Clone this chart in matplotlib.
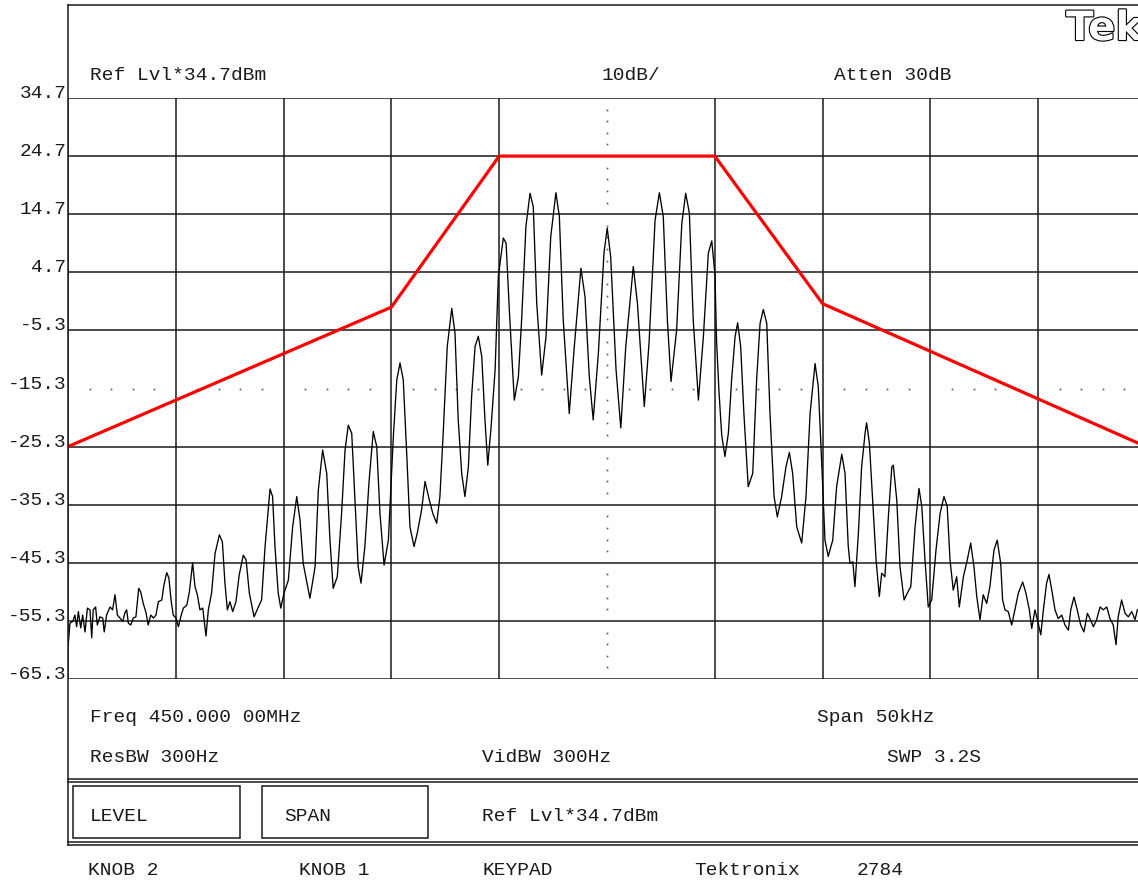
import matplotlib
matplotlib.use('Agg')
import matplotlib.pyplot as plt
from matplotlib.lines import Line2D
from matplotlib.patches import Rectangle
import matplotlib.patheffects as pe

# ---------------- data ----------------
freq_khz = [
    -24.99, -24.91, -24.78, -24.68, -24.60, -24.52, -24.41, -24.32, -24.21, -24.10,
    -23.98, -23.90, -23.83, -23.72, -23.64, -23.52, -23.39, -23.32, -23.21, -23.05,
    -22.93, -22.82, -22.71, -22.59, -22.46, -22.36, -22.28, -22.20, -22.09, -21.97,
    -21.85, -21.72, -21.63, -21.51, -21.38, -21.28, -21.16, -21.04, -20.92, -20.81,
    -20.65, -20.55, -20.42, -20.32, -20.22, -20.12, -19.99, -19.88, -19.77, -19.65,
    -19.49, -19.37, -19.22, -19.11, -19.00, -18.88, -18.75, -18.60, -18.49, -18.34,
    -18.18, -17.98, -17.84, -17.72, -17.61, -17.49, -17.36, -17.21, -17.06, -16.87,
    -16.74, -16.59, -16.37, -16.17, -16.02, -15.86, -15.63, -15.51, -15.40, -15.25,
    -15.13, -14.98, -14.78, -14.58, -14.39, -14.24, -14.09, -13.78, -13.54, -13.39,
    -13.19, -13.00, -12.85, -12.70, -12.51, -12.31, -12.15, -12.00, -11.84, -11.69,
    -11.54, -11.41, -11.23, -11.03, -10.84, -10.68, -10.53, -10.34, -10.14, -9.91,
    -9.75, -9.60, -9.45, -9.29, -9.14, -8.95, -8.80, -8.60, -8.44, -8.24,
    -8.08, -7.90, -7.75, -7.59, -7.41, -7.20, -7.05, -6.90, -6.74, -6.59,
    -6.43, -6.28, -6.12, -5.97, -5.81, -5.66, -5.53, -5.38, -5.19, -5.04,
    -4.81, -4.68, -4.53, -4.30, -4.11, -3.96, -3.76, -3.57, -3.42, -3.26,
    -3.03, -2.83, -2.61, -2.37, -2.21, -2.03, -1.75, -1.53, -1.21, -1.02,
    -0.82, -0.64, -0.40, -0.14, 0.01, 0.17, 0.42, 0.64, 0.87, 1.22,
    1.41, 1.73, 1.95, 2.23, 2.43, 2.61, 2.80, 2.97, 3.23, 3.47,
    3.65, 3.82, 4.00, 4.24, 4.47, 4.70, 4.86, 5.01, 5.08, 5.19,
    5.32, 5.47, 5.63, 5.78, 5.94, 6.06, 6.20, 6.35, 6.55, 6.76,
    6.94, 7.10, 7.25, 7.41, 7.56, 7.75, 7.90, 8.10, 8.30, 8.46,
    8.61, 8.80, 9.03, 9.23, 9.42, 9.65, 9.80, 9.96, 10.11, 10.26,
    10.47, 10.65, 10.89, 11.04, 11.19, 11.27, 11.40, 11.50, 11.66, 11.81,
    11.97, 12.04, 12.17, 12.32, 12.48, 12.63, 12.74, 12.89, 13.05, 13.21,
    13.28, 13.44, 13.59, 13.78, 13.93, 14.09, 14.29, 14.47, 14.60, 14.75,
    14.90, 15.06, 15.26, 15.45, 15.63, 15.78, 15.91, 16.06, 16.22, 16.34,
    16.53, 16.71, 16.87, 17.02, 17.15, 17.30, 17.45, 17.61, 17.76, 17.95,
    18.10, 18.26, 18.35, 18.46, 18.61, 18.77, 18.92, 19.08, 19.28, 19.43,
    19.59, 19.70, 19.85, 20.00, 20.12, 20.24, 20.39, 20.50, 20.63, 20.78,
    20.93, 21.09, 21.24, 21.40, 21.51, 21.66, 21.81, 21.97, 22.12, 22.28,
    22.40, 22.56, 22.71, 22.87, 23.02, 23.18, 23.33, 23.48, 23.61, 23.71,
    23.87, 24.03, 24.18, 24.34, 24.49, 24.60,
]

level_dbm = [
    -59.4, -55.7, -55.4, -54.3, -56.3, -53.7, -56.5, -54.3, -57.2, -53.1,
    -53.4, -58.2, -53.4, -52.9, -56.0, -54.6, -54.8, -57.2, -54.3, -52.9,
    -53.4, -50.8, -54.3, -54.8, -55.4, -53.9, -53.4, -55.7, -56.0, -54.8,
    -54.6, -49.7, -50.3, -52.3, -53.9, -56.0, -54.3, -54.8, -54.3, -52.0,
    -51.7, -49.1, -47.0, -47.9, -51.7, -54.3, -54.8, -56.3, -54.6, -53.1,
    -52.6, -50.3, -45.3, -49.4, -50.8, -53.4, -53.1, -57.9, -53.4, -50.5,
    -43.7, -40.5, -41.7, -48.8, -53.4, -52.0, -53.7, -52.0, -47.4, -44.0,
    -44.8, -50.5, -54.6, -52.9, -51.7, -42.5, -32.6, -33.9, -42.5, -50.5,
    -53.1, -50.5, -48.3, -39.1, -33.9, -37.9, -45.4, -51.4, -46.0, -32.8,
    -25.9, -29.9, -41.4, -49.7, -47.7, -36.8, -25.9, -21.6, -23.0, -34.5,
    -46.0, -48.8, -42.5, -31.0, -22.7, -25.3, -36.8, -45.7, -41.4, -23.6,
    -13.8, -10.9, -13.8, -26.5, -39.1, -42.5, -40.2, -36.2, -31.3, -34.5,
    -36.8, -38.5, -33.9, -22.4, -8.1, -1.5, -5.8, -20.7, -29.9, -33.9,
    -28.8, -16.7, -8.1, -6.3, -9.8, -20.7, -28.5, -22.1, -12.1, 4.0,
    10.6, 9.7, -1.8, -17.3, -13.3, -3.5, 12.6, 18.3, 16.0, -0.6,
    -13.0, -6.4, 10.8, 18.4, 14.3, -3.5, -19.6, -8.7, 5.4, 0.5,
    -13.3, -20.7, -9.2, 8.0, 12.3, 7.4, -12.1, -22.1, -8.1, 5.7,
    -0.6, -18.4, -7.5, 13.7, 18.4, 14.3, -3.5, -14.1, -5.2, 13.1,
    18.3, 14.9, -3.5, -17.3, -6.4, 8.0, 10.1, 4.2, -7.0, -15.6,
    -23.3, -27.0, -23.0, -13.8, -6.4, -4.0, -8.1, -19.6, -32.2, -29.9,
    -13.8, -4.1, -1.7, -4.1, -19.6, -33.9, -37.4, -33.9, -28.8, -26.3,
    -29.9, -39.1, -41.9, -33.9, -19.6, -11.0, -15.0, -28.2, -41.4, -44.2,
    -41.4, -32.2, -26.6, -29.9, -42.5, -45.4, -45.1, -49.4, -40.2, -28.8,
    -23.0, -21.2, -24.7, -34.5, -44.8, -51.1, -47.1, -47.7, -37.4, -28.8,
    -28.5, -34.5, -46.0, -51.7, -50.5, -49.4, -39.1, -32.5, -35.6, -44.8,
    -52.9, -51.7, -43.1, -36.8, -33.9, -35.6, -44.8, -50.0, -47.7, -52.9,
    -47.7, -44.8, -41.9, -46.0, -51.1, -55.1, -50.8, -52.3, -49.4, -43.1,
    -41.4, -45.4, -51.7, -53.4, -53.7, -56.0, -53.4, -50.5, -48.6, -50.5,
    -53.4, -56.6, -53.4, -55.7, -57.7, -53.4, -48.8, -47.3, -50.0, -53.4,
    -54.9, -54.3, -56.0, -56.9, -53.4, -51.2, -53.4, -56.0, -57.2, -54.0,
    -54.9, -56.3, -55.1, -52.9, -53.4, -52.9, -54.9, -56.0, -59.4, -54.6,
    -51.7, -54.0, -54.6, -53.7, -55.1, -53.4,
]

mask_freq_khz = [-25, -10, -5, 5, 10, 25]
mask_level_dbm = [-25.3, -1.3, 24.7, 24.7, -0.7, -25.3]

level_ticks = [34.7, 24.7, 14.7, 4.7, -5.3, -15.3, -25.3, -35.3, -45.3, -55.3, -65.3]
level_tick_labels = ['34.7', '24.7', '14.7', '4.7', '-5.3', '-15.3', '-25.3',
                     '-35.3', '-45.3', '-55.3', '-65.3']
freq_grid_khz = [-25, -20, -15, -10, -5, 5, 10, 15, 20, 25]
ref_level = -15.3   # centre (dotted) horizontal line

# ---------------- figure ----------------
W, H = 1138, 880
MONO = 'Liberation Mono'
FS = 14
INK = '#1a1a1a'

fig = plt.figure(figsize=(W / 100, H / 100), dpi=100)
fig.patch.set_facecolor('white')


def fx(x):
    return x / W


def fy(y):
    return 1 - y / H


ax = fig.add_axes([fx(68), fy(679), (1146 - 68) / W, (679 - 98) / H])
ax.set_xlim(-25, 25)
ax.set_ylim(-65.3, 34.7)
for s in ax.spines.values():
    s.set_visible(False)
ax.set_xticks([])
ax.set_yticks(level_ticks)
ax.set_yticklabels(level_tick_labels, fontfamily=MONO, fontsize=FS, color=INK)
ax.tick_params(axis='y', length=0, pad=1)
for lab in ax.get_yticklabels():
    lab.set_verticalalignment('baseline')

# graticule
for f in freq_grid_khz:
    ax.axvline(f, color=INK, lw=1.1, zorder=1)
for v in level_ticks:
    if v != ref_level:
        ax.axhline(v, color=INK, lw=1.1, zorder=1)

# dotted centre lines (minor divisions)
dot_f = [f for f in range(-24, 25) if f % 5 != 0]
ax.plot(dot_f, [ref_level] * len(dot_f), ls='none', marker='s', ms=1.2,
        mec='none', color='#555555', zorder=1)
dot_l = [34.7 - 2 * k for k in range(1, 50) if k % 5 != 0]
ax.plot([0] * len(dot_l), dot_l, ls='none', marker='s', ms=1.2,
        mec='none', color='#555555', zorder=1)

# spectrum trace and mask
ax.plot(freq_khz, level_dbm, color='black', lw=0.95, zorder=3)
ax.plot(mask_freq_khz, mask_level_dbm, color='#ff0000', lw=2.3, zorder=4)

# ---------------- frame / boxes ----------------
def hline(y, x0, x1, lw=1.1):
    fig.add_artist(Line2D([fx(x0), fx(x1)], [fy(y), fy(y)], color=INK, lw=lw))


def vline(x, y0, y1, lw=1.1):
    fig.add_artist(Line2D([fx(x), fx(x)], [fy(y0), fy(y1)], color=INK, lw=lw))


hline(5, 68, W)
vline(68, 5, 845)
hline(779, 68, W)
hline(781.5, 68, W)
hline(842, 68, W)
hline(844.5, 68, W)
for (x0, x1) in [(73, 240), (262, 428)]:
    fig.add_artist(Rectangle((fx(x0), fy(838)), (x1 - x0) / W, (838 - 786) / H,
                             fill=False, ec=INK, lw=1.1))

# ---------------- texts ----------------
def t(x, y, s):
    fig.text(fx(x), fy(y), s, fontfamily=MONO, fontsize=FS, color=INK,
             ha='left', va='baseline')


t(90, 80, 'Ref Lvl*34.7dBm')
t(602, 80, '10dB/')
t(834, 80, 'Atten 30dB')
t(90, 722, 'Freq 450.000 00MHz')
t(817, 722, 'Span 50kHz')
t(90, 762, 'ResBW 300Hz')
t(482, 762, 'VidBW 300Hz')
t(887, 762, 'SWP 3.2S')
t(90, 821, 'LEVEL')
t(284, 821, 'SPAN')
t(482, 821, 'Ref Lvl*34.7dBm')
t(88, 875, 'KNOB 2')
t(299, 875, 'KNOB 1')
t(482, 875, 'KEYPAD')
t(694, 875, 'Tektronix')
t(857, 875, '2784')

fig.text(fx(1066), fy(40), 'Tek', fontfamily='DejaVu Sans', fontweight='bold',
         fontsize=29, color='white', ha='left', va='baseline',
         path_effects=[pe.withStroke(linewidth=1.6, foreground='black')])

fig.savefig('out.png', dpi=100, facecolor='white')
